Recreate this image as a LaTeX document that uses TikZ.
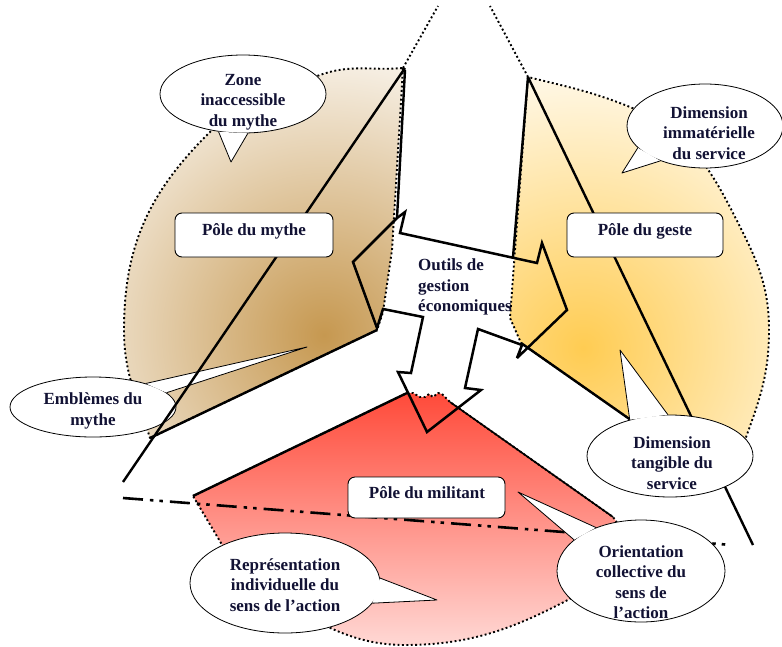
\documentclass[tikz,border=0pt]{standalone}
\usepackage{fontspec}
\setmainfont{Liberation Serif}
\usetikzlibrary{shapes.geometric,calc}
\definecolor{brownC}{RGB}{198,152,80}
\definecolor{yellowC}{RGB}{255,204,82}
\definecolor{redC}{RGB}{255,36,16}
\definecolor{txt}{RGB}{18,18,52}
\tikzset{
 dotb/.style={line width=1.9pt, dash pattern=on 1.9pt off 2.5pt},
 solidb/.style={line width=2.4pt},
 arrowb/.style={line width=2.5pt, line join=miter, miter limit=4},
 dashdotb/.style={line width=2.6pt, dash pattern=on 20pt off 7pt on 3.5pt off 6pt on 3.5pt off 7pt},
 bub/.style={ellipse, draw, fill=white, line width=0.8pt, inner sep=0pt},
 tail/.style={line width=0.8pt},
 lbl/.style={font=\bfseries\fontsize{17}{20.5}\selectfont, text=txt, align=center, inner sep=0pt},
 pole/.style={draw, fill=white, rounded corners=7pt, line width=0.9pt, inner sep=0pt},
}
\def\MythePath{(403,68) -- (392,250) -- (383,312) -- (377,330) -- (150,438) to[out=108, in=270] (124,330) to[out=90, in=225] (207,135) to[out=45, in=200] (320,75) to[out=20, in=185] (403,68) -- cycle}
\def\GestePath{(528,77) -- (515,250) -- (510,318) -- (521,343) -- (628,418) -- (700,462) -- (745,440) to[out=70, in=270] (769,330) to[out=90, in=297] (733,213) to[out=117, in=338] (630,107) to[out=158, in=346] (528,77) -- cycle}
\def\MilPath{(193,496) -- (407,393) -- (413,393) -- (420,397) -- (425,397) -- (429,394) -- (433,397) -- (438,393) -- (442,394) -- (450,402) -- (613,517) -- (640,555) -- (620,572) to[out=208, in=0] (405,645) to[out=180, in=340] (249,590) -- cycle}
\begin{document}
\begin{tikzpicture}[x=1pt, y=-1pt, line join=round]
\useasboundingbox (0,0) rectangle (782,646);
% shaded sectors
\begin{scope}
 \clip \MythePath;
 \shade[inner color=brownC, outer color=white] (324,335) circle (325);
\end{scope}
\begin{scope}
 \clip \GestePath;
 \shade[inner color=yellowC, outer color=white] (583,348) circle (320);
\end{scope}
\begin{scope}
 \clip \MilPath;
 \shade[top color=redC, bottom color=white] (150,325) rectangle (700,715);
\end{scope}
% dotted borders
\draw[dotb] \MythePath;
\draw[dotb] \GestePath;
\draw[dotb] \MilPath;
% solid edges of sectors
\draw[solidb] (377,330) -- (150,438);
\draw[solidb] (521,343) -- (628,418) -- (700,462);
\draw[solidb] (193,496) -- (407,393);
\draw[line width=1.6pt] (450,402) -- (613,517);
% upper wedge
\coordinate (wl) at (405,70);
\coordinate (wr) at (528,77);
\draw[solidb] (wl) -- (397,218);
\draw[solidb] (wr) -- (513,257);
\draw[dotb] (403,68) -- (438,6);
\draw[dotb] (528,77) -- (490,6);
% long lines
\coordinate (l1a) at (405,68);
\coordinate (l1b) at (123,482);
\coordinate (l2a) at (528,77);
\coordinate (l2b) at (753,545);
\coordinate (l3a) at (123,498);
\coordinate (l3b) at (732,545);
\draw[solidb] (l2a) -- (l2b);
\draw[dashdotb] (l3a) -- (l3b);
% three arrows
\draw[arrowb] (397,218) -- (405,212) -- (400,233) -- (537,263) -- (542,243) -- (567,310) -- (517,358) -- (522,345) -- (478,329) -- (465,388) -- (481,390) -- (427,432) -- (398,372) -- (411,373) -- (423,317) -- (383,309) -- (377,328) -- (353,262) -- cycle;
% Emblemes bubble
\node[bub, minimum width=166pt, minimum height=60pt] (emb) at (93,407) {};
\coordinate (embTip) at (307,347);
\fill[white] (emb.24) -- (embTip) -- (emb.11) -- cycle;
\draw[tail] (emb.24) -- (embTip) -- (emb.11);
\node[lbl] (embT) at (93,411) {Emblèmes du\\mythe};
\draw[solidb] (l1a) -- (l1b);
% pole boxes
\node[pole, minimum width=158pt, minimum height=44pt] (pm) at (254,235) {};
\node[lbl] (pmT) at (254,231) {Pôle du mythe};
\node[pole, minimum width=156pt, minimum height=44pt] (pg) at (645,235) {};
\node[lbl] (pgT) at (645,231) {Pôle du geste};
\node[pole, minimum width=157pt, minimum height=41pt] (pmil) at (426.5,497.5) {};
\node[lbl] (pmilT) at (427,493) {Pôle du militant};
% bubbles
\node[bub, minimum width=166pt, minimum height=78pt] (zone) at (243,94) {};
\coordinate (zoneTip) at (231,162);
\fill[white] (zone.237) -- (zoneTip) -- (zone.277) -- cycle;
\draw[tail] (zone.237) -- (zoneTip) -- (zone.277);
\node[lbl] (zoneT) at (243,102) {Zone\\inaccessible\\du mythe};

\node[bub, minimum width=156pt, minimum height=84pt] (imm) at (705,126) {};
\coordinate (immTip) at (622,173);
\fill[white] (imm.198) -- (immTip) -- (imm.218) -- cycle;
\draw[tail] (imm.198) -- (immTip) -- (imm.218);
\node[lbl] (immT) at (709,133) {Dimension\\immatérielle\\du service};

\node[bub, minimum width=166pt, minimum height=82pt] (tan) at (670,456) {};
\coordinate (tanTip) at (620,350);
\fill[white] (tan.138) -- (tanTip) -- (tan.93) -- cycle;
\draw[tail] (tan.138) -- (tanTip) -- (tan.93);
\node[lbl] (tanT) at (672,463) {Dimension\\tangible du\\service};

\node[bub, minimum width=168pt, minimum height=102pt] (ori) at (641,571) {};
\coordinate (oriTip) at (518,492);
\fill[white] (ori.155) -- (oriTip) -- (ori.136) -- cycle;
\draw[tail] (ori.155) -- (oriTip) -- (ori.136);
\node[lbl] (oriT) at (641,582) {Orientation\\collective du\\sens de\\l’action};

\node[bub, minimum width=190pt, minimum height=100pt] (rep) at (285,583) {};
\coordinate (repTip) at (437,600);
\fill[white] (rep.3) -- (repTip) -- (rep.347) -- cycle;
\draw[tail] (rep.3) -- (repTip) -- (rep.347);
\node[lbl] (repT) at (285,585) {Représentation\\individuelle du\\sens de l’action};

\node[lbl, align=left, anchor=west] (outils) at (418,287) {Outils de\\gestion\\économiques};
\end{tikzpicture}
\end{document}
